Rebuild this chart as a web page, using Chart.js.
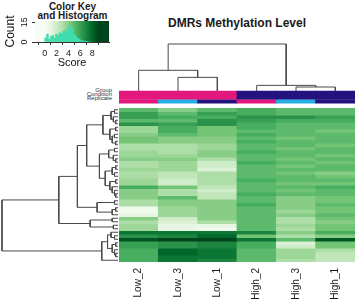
<!DOCTYPE html>
<html>
<head>
<meta charset="utf-8">
<script src="https://cdn.jsdelivr.net/npm/chart.js@4.4.1/dist/chart.umd.min.js"></script>
<style>
    html, body { margin: 0; padding: 0; background: #fff; }
    body { width: 358px; height: 302px; position: relative; overflow: hidden; font-family: "Liberation Sans", Arial, sans-serif; }
    canvas, .txt { position: absolute; }
    .txt { white-space: nowrap; color: #1a1a1a; }
    .bold { font-weight: bold; }
    .key-title { left: 22px; width: 101px; text-align: center; font-size: 10px; line-height: 10px; }
    .annot { right: 246px; font-size: 6px; line-height: 6px; color: #333; text-align: right; }
</style>
</head>
<body>
<div class="txt bold key-title" style="top:1.5px">Color Key</div>
<div class="txt bold key-title" style="top:10.5px">and Histogram</div>
<div class="txt bold" style="left:119px; width:236px; top:17px; text-align:center; font-size:12px; line-height:12px;">DMRs Methylation Level</div>
<div class="txt annot" style="top:87px">Group</div>
<div class="txt annot" style="top:91px">Condition</div>
<div class="txt annot" style="top:94.5px">Replicate</div>

<canvas id="color-key" width="115" height="70" style="left:0; top:0"></canvas>
<canvas id="col-dendro" width="236" height="91" style="left:119px; top:0"></canvas>
<canvas id="row-dendro" width="118" height="154" style="left:0; top:108px"></canvas>
<canvas id="heatmap" width="236" height="212" style="left:119px; top:90px"></canvas>

<script>
const columns = ['Low_2', 'Low_3', 'Low_1', 'High_2', 'High_3', 'High_1'];
const groupLabels = ['Low', 'Low', 'Low', 'High', 'High', 'High'];
const conditionLabels = ['Low', 'Low', 'Low', 'High', 'High', 'High'];
const replicateLabels = ['2', '3', '1', '2', '3', '1'];

// methylation score per DMR row (top to bottom), columns in the order above
const heatValues = [
    [5, 4, 5, 5.5, 5, 5],
    [6, 5, 6, 5.5, 5, 5],
    [6, 5.5, 5.5, 6.5, 6.5, 6],
    [5, 5, 6.5, 6, 5.5, 5.5],
    [6.5, 6, 6.5, 5.5, 5, 5],
    [3.5, 5.5, 4.5, 5.5, 5, 5],
    [3.5, 5.5, 4.5, 5, 5, 4.5],
    [4, 5, 4.5, 5.5, 5, 5],
    [4.5, 4, 4, 5, 4.5, 5],
    [4.5, 4, 4, 5.5, 5, 5],
    [3, 3, 3.5, 5, 5, 4.5],
    [3, 3, 3.5, 5, 4.5, 5],
    [3.5, 3, 4, 5.5, 5, 5],
    [3.5, 3.5, 4, 5, 5, 4.5],
    [4, 4, 3, 5, 4.5, 5],
    [3, 3.5, 2, 5.5, 5, 4.5],
    [3, 3.5, 2, 5, 4.5, 5],
    [3.5, 3.5, 1.5, 5, 5, 5],
    [3, 2.5, 3, 5, 4.5, 4],
    [3, 2.5, 3, 5, 5, 4.5],
    [3.5, 2, 3, 5.5, 5, 5],
    [3.5, 2, 3, 5, 4.5, 4.5],
    [5.5, 4.5, 2.5, 5, 5, 5.5],
    [4, 3, 2, 5, 4.5, 5],
    [4, 3, 2.5, 5.5, 5, 5],
    [4, 5, 2.5, 5, 4, 4.5],
    [3, 4, 4, 5, 4, 4.5],
    [3, 4, 4, 5.5, 4, 5],
    [0.5, 3.5, 4, 5, 4, 4.5],
    [0.5, 3.5, 4, 5, 3.5, 4.5],
    [1, 3.5, 4, 5, 4, 5],
    [4, 2, 4, 5, 3, 4.5],
    [3, 1.5, 3, 5, 3, 4],
    [3.5, 1, 1, 5, 3.5, 4.5],
    [3.5, 1, 0.5, 5, 3, 4.5],
    [7.5, 7.5, 7.5, 7, 4, 5.5],
    [6.5, 7, 8, 4.5, 3, 4],
    [8.5, 9, 9, 7.5, 5, 8.5],
    [6, 6.5, 7, 5.5, 1.5, 4.5],
    [6, 6.5, 7, 5.5, 2, 4.5],
    [5.5, 8, 7.5, 5, 3.5, 3],
    [5.5, 8, 7.5, 5, 3.5, 2.5],
    [5.5, 7.5, 7.5, 5, 3.5, 2.5],
    [5.5, 7.5, 7, 5, 3, 2.5],
];

// trees: [left, right, height], leaves are column / row indices
const columnTree = [[0, [1, 2, 2.9], 4.4], [3, [4, 5, 0.85], 1.2], 10];
const rowTree = [
    [
        [
            [
                [[[0, 1, 0.3], [2, [3, 4, 0.2], 0.4], 0.6], [[5, 6, 0.2], [[7, 8, 0.3], [9, 10, 0.2], 0.5], 0.7], 1.3],
                [[[11, 12, 0.3], [13, [14, 15, 0.2], 0.4], 0.8], [[[16, 17, 0.2], [18, 19, 0.3], 0.5], [[20, 21, 0.2], [22, [23, [24, 25, 0.2], 0.3], 0.5], 0.7], 1.1], 1.6],
                2.7,
            ],
            [[26, 27, 0.3], [[28, 29, 0.2], 30, 0.5], 1.8],
            3.5,
        ],
        [[31, 32, 0.5], [33, 34, 0.4], 2.4],
        5.1,
    ],
    [[[35, [36, 37, 0.3], 0.6], [[38, 39, 0.2], [40, [41, 42, 0.2], 0.3], 0.5], 0.9], 43, 1.4],
    10,
];

const scoreTicks = [0, 2, 4, 6, 8];
const countTicks = [0, 15];
const histCenters = [0.15, 0.45, 0.75, 1.05, 1.35, 1.65, 1.95, 2.25, 2.55, 2.85, 3.15, 3.45, 3.75,
    4.05, 4.35, 4.65, 4.95, 5.25, 5.55, 5.85, 6.15, 6.45, 6.75, 7.05, 7.35, 7.65];
const histCounts = [3, 6, 2, 4, 5, 3, 6, 5, 7, 6, 8, 9, 7, 11, 13, 10, 6, 4, 3, 2, 1, 1, 0.5, 0.5, 0, 0];

const GREENS = ['#f7fcf5', '#e5f5e0', '#c7e9c0', '#a1d99b', '#74c476', '#41ab5d', '#238b45', '#006d2c', '#00441b'];
const KEY_MIN = 0;
const KEY_MAX = 9;
const GROUP_COLORS = { Low: '#e3177d', High: '#24137e' };
const REPLICATE_COLORS = { '2': '#e3177d', '3': '#26ade2', '1': '#24137e' };
const LINE_COLOR = '#4a4a4a';

Chart.defaults.font.family = "'Liberation Sans', Arial, sans-serif";
Chart.defaults.color = '#222';

function hexToRgb(hex) {
    const n = parseInt(hex.slice(1), 16);
    return [(n >> 16) & 255, (n >> 8) & 255, n & 255];
}

function scoreColor(v) {
    const t = Math.min(Math.max((v - KEY_MIN) / (KEY_MAX - KEY_MIN), 0), 1) * (GREENS.length - 1);
    const i = Math.min(Math.floor(t), GREENS.length - 2);
    const f = t - i;
    const a = hexToRgb(GREENS[i]);
    const b = hexToRgb(GREENS[i + 1]);
    const c = a.map((x, k) => Math.round(x + (b[k] - x) * f));
    return `rgb(${c[0]}, ${c[1]}, ${c[2]})`;
}

function treeBrackets(node, leafPos, out) {
    if (typeof node === 'number') return { pos: leafPos(node), h: 0 };
    const [l, r, h] = node;
    const a = treeBrackets(l, leafPos, out);
    const b = treeBrackets(r, leafPos, out);
    out.push([a, { pos: a.pos, h }, { pos: b.pos, h }, b]);
    return { pos: (a.pos + b.pos) / 2, h };
}

function lineSet(points) {
    return {
        data: points,
        showLine: true,
        borderColor: LINE_COLOR,
        borderWidth: 1,
        pointRadius: 0,
        clip: false,
    };
}

const hidden = { display: false };
const baseOptions = {
    responsive: false,
    animation: false,
    events: [],
    layout: { padding: 0 },
    plugins: { legend: hidden, tooltip: { enabled: false } },
};

function renderColumnDendrogram() {
    const brackets = [];
    treeBrackets(columnTree, (c) => c + 0.5, brackets);
    new Chart(document.getElementById('col-dendro'), {
        type: 'scatter',
        data: { datasets: brackets.map((b) => lineSet(b.map((p) => ({ x: p.pos, y: p.h })))) },
        options: {
            ...baseOptions,
            scales: {
                x: { type: 'linear', min: 0, max: columns.length, display: false },
                y: { type: 'linear', min: 0, max: 19.36, display: false },
            },
        },
    });
}

function renderRowDendrogram() {
    const brackets = [];
    treeBrackets(rowTree, (r) => r + 0.5, brackets);
    new Chart(document.getElementById('row-dendro'), {
        type: 'scatter',
        data: { datasets: brackets.map((b) => lineSet(b.map((p) => ({ x: p.h, y: p.pos })))) },
        options: {
            ...baseOptions,
            scales: {
                x: { type: 'linear', min: 0, max: 10.17, reverse: true, display: false },
                y: { type: 'linear', min: 0, max: heatValues.length, reverse: true, display: false },
            },
        },
    });
}

function renderHeatmap() {
    const cellSets = heatValues.map((row, r) => ({
        data: row.map(() => [r, r + 1.15]),
        backgroundColor: row.map(scoreColor),
    }));

    const annotTop = -4.94;
    const annotRow = 1.22;
    const bands = [
        groupLabels.map((g) => GROUP_COLORS[g]),
        conditionLabels.map((g) => GROUP_COLORS[g]),
        replicateLabels.map((g) => REPLICATE_COLORS[g]),
    ];
    const bandSets = bands.map((colors, i) => ({
        data: colors.map(() => [annotTop + i * annotRow, annotTop + (i + 1) * annotRow + (i < 2 ? 0.1 : 0)]),
        backgroundColor: colors,
    }));

    new Chart(document.getElementById('heatmap'), {
        type: 'bar',
        data: {
            labels: columns,
            datasets: [...cellSets, ...bandSets].map((ds) => ({
                ...ds,
                grouped: false,
                borderWidth: 0,
                barPercentage: 1.02,
                categoryPercentage: 1,
            })),
        },
        options: {
            ...baseOptions,
            scales: {
                x: {
                    grid: { display: false, drawTicks: false },
                    border: { display: false },
                    ticks: { minRotation: 90, maxRotation: 90, padding: 6, color: '#1a1a1a', font: { size: 10 } },
                    afterFit: (scale) => { scale.height = 40; },
                },
                y: { type: 'linear', min: -18 / 3.5, max: heatValues.length, reverse: true, display: false },
            },
        },
    });
}

const keyGradient = {
    id: 'keyGradient',
    beforeDatasetsDraw(chart) {
        const { ctx, chartArea, scales } = chart;
        const x0 = scales.x.getPixelForValue(KEY_MIN);
        const x1 = scales.x.getPixelForValue(KEY_MAX);
        const grad = ctx.createLinearGradient(x0, 0, x1, 0);
        GREENS.forEach((c, i) => grad.addColorStop(i / (GREENS.length - 1), c));
        ctx.save();
        ctx.fillStyle = grad;
        ctx.fillRect(chartArea.left, chartArea.top, chartArea.width, chartArea.height);
        ctx.restore();
    },
};

// count labels on the key run along the axis, as R draws them
const countLabels = {
    id: 'countLabels',
    afterDraw(chart) {
        const { ctx, scales, chartArea } = chart;
        ctx.save();
        ctx.fillStyle = '#111';
        ctx.font = '9px Arial';
        ctx.textAlign = 'center';
        ctx.textBaseline = 'middle';
        countTicks.forEach((v) => {
            ctx.save();
            ctx.translate(chartArea.left - 10, scales.y.getPixelForValue(v));
            ctx.rotate(-Math.PI / 2);
            ctx.fillText(String(v), 0, 0);
            ctx.restore();
        });
        ctx.restore();
    },
};

function renderColorKey() {
    const axisGrid = { drawOnChartArea: false, drawTicks: true, tickLength: 3, color: '#333' };
    new Chart(document.getElementById('color-key'), {
        type: 'bar',
        data: {
            datasets: [{
                data: histCenters.map((x, i) => ({ x, y: histCounts[i] })),
                backgroundColor: '#3fdcae',
                borderWidth: 0,
                barPercentage: 1,
                categoryPercentage: 1,
            }],
        },
        options: {
            ...baseOptions,
            layout: { padding: { top: 21, right: 6 } },
            scales: {
                x: {
                    type: 'linear',
                    min: -0.4,
                    max: 9.6,
                    grid: axisGrid,
                    border: { display: true, color: '#333' },
                    afterBuildTicks: (scale) => { scale.ticks = scoreTicks.map((v) => ({ value: v })); },
                    ticks: { padding: 3, font: { size: 9 }, color: '#222' },
                    title: { display: true, text: 'Score', font: { size: 11 }, padding: 0, color: '#111' },
                    afterFit: (scale) => { scale.height = 28; },
                },
                y: {
                    min: 0,
                    max: 16,
                    grid: axisGrid,
                    border: { display: true, color: '#333' },
                    afterBuildTicks: (scale) => { scale.ticks = countTicks.map((v) => ({ value: v })); },
                    ticks: { display: false },
                    title: { display: true, text: 'Count', font: { size: 12 }, padding: { top: 3, bottom: 0 }, color: '#111' },
                    afterFit: (scale) => { scale.width = 35; },
                },
            },
        },
        plugins: [keyGradient, countLabels],
    });
}

renderColorKey();
renderColumnDendrogram();
renderRowDendrogram();
renderHeatmap();
</script>
</body>
</html>
